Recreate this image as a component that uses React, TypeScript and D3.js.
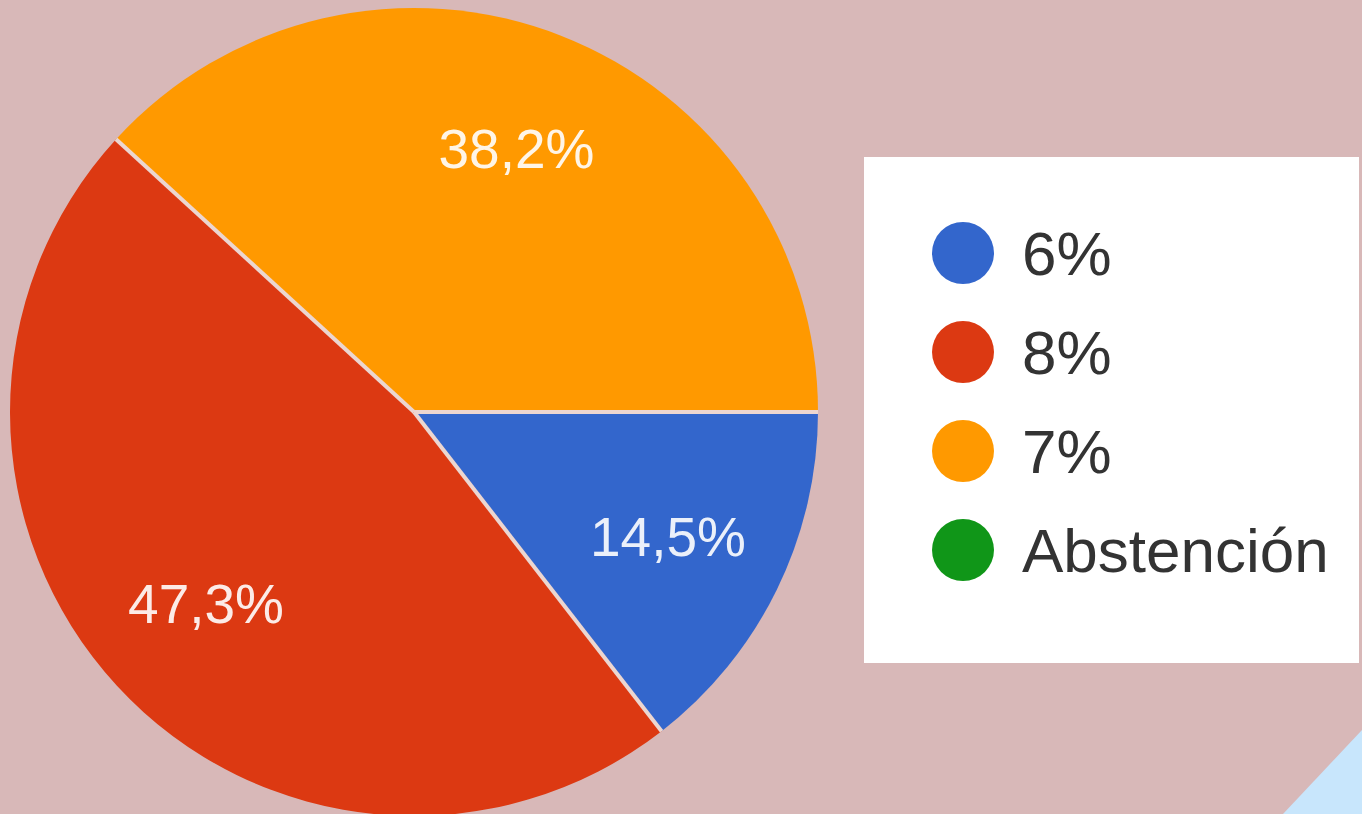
import React from "react";
import * as d3 from "d3";

const categories = ["6%", "8%", "7%", "Abstención"];
const values = [14.5, 47.3, 38.2, 0];
const colors = ["#3366cc", "#dc3912", "#ff9900", "#109618"];

const W = 1362;
const H = 814;

export default function App() {
  const cx = 414;
  const cy = 412;
  const R = 404;
  const data = categories.map((c, i) => ({ c, v: values[i], color: colors[i] }));
  const pie = d3
    .pie<any>()
    .value((d) => d.v)
    .sort(null)
    .startAngle(Math.PI / 2)
    .endAngle(Math.PI / 2 + 2 * Math.PI);
  const arcs = pie(data).filter((a) => a.data.v > 0);
  const arc = d3.arc<any>().innerRadius(0).outerRadius(R);
  const labelArc = d3.arc<any>().innerRadius(R * 0.7).outerRadius(R * 0.7);
  const fmt = (v: number) => v.toFixed(1).replace(".", ",") + "%";

  const legendY = d3.scalePoint<string>().domain(categories).range([253, 550]);

  return (
    <svg
      width={W}
      height={H}
      style={{ position: "absolute", left: 0, top: 0, display: "block" }}
      fontFamily="Liberation Sans, Arial, sans-serif"
    >
      <rect x={0} y={0} width={W} height={H} fill="#d8b8b8" />
      <polygon points={`1283,${H} ${W},730 ${W},${H}`} fill="#c8e6fc" />
      <g transform={`translate(${cx},${cy})`}>
        {arcs.map((a, i) => (
          <path key={i} d={arc(a) as string} fill={a.data.color} />
        ))}
        {arcs.map((a, i) => {
          const [x, y] = d3.pointRadial(a.startAngle, R);
          return (
            <line key={"s" + i} x1={0} y1={0} x2={x} y2={y} stroke="#ecd6d0" strokeWidth={4} />
          );
        })}
        {arcs.map((a, i) => {
          const [x, y] = labelArc.centroid(a);
          return (
            <text
              key={"l" + i}
              x={x}
              y={y}
              dy="0.36em"
              textAnchor="middle"
              fill="#ffffff"
              fillOpacity={0.9}
              fontSize={55}
            >
              {fmt(a.data.v)}
            </text>
          );
        })}
      </g>
      <rect x={864} y={157} width={495} height={506} fill="#ffffff" />
      {categories.map((c, i) => (
        <g key={c} transform={`translate(0,${legendY(c)})`}>
          <circle cx={963} cy={0} r={31} fill={colors[i]} />
          <text x={1022} y={0} dy="0.36em" fontSize={62} fill="#333333">
            {c}
          </text>
        </g>
      ))}
    </svg>
  );
}
